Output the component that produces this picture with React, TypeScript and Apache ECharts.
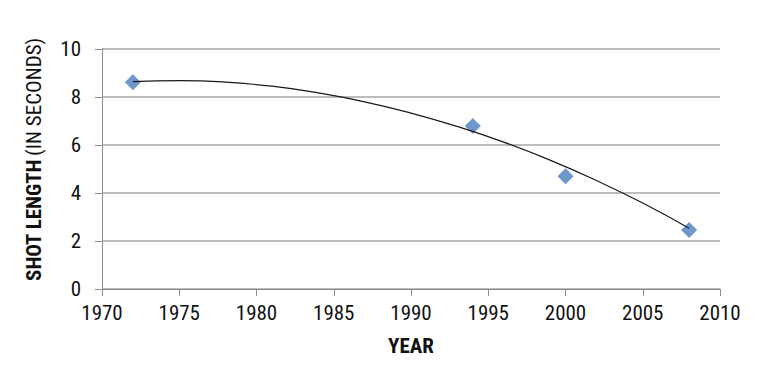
import React, { useEffect, useRef } from "react";
import * as echarts from "echarts";

const years = [1972, 1994, 2000, 2008];
const shotLength = [8.61, 6.79, 4.7, 2.46];
const trendYears = [1972, 1975, 1978, 1981, 1984, 1987, 1990, 1993, 1996, 1999, 2002, 2005, 2008];
const trendValues = [8.64, 8.68, 8.62, 8.45, 8.17, 7.8, 7.33, 6.77, 6.12, 5.37, 4.52, 3.58, 2.53];

const FONT = "'Roboto Condensed', 'Liberation Sans', sans-serif";

export default function App() {
  const ref = useRef<HTMLDivElement>(null);
  useEffect(() => {
    if (!ref.current) return;
    const chart = echarts.init(ref.current, undefined, { renderer: "svg" });
    chart.setOption({
      animation: false,
      backgroundColor: "#ffffff",
      grid: { left: 102, right: 49, top: 49, bottom: 94 },
      xAxis: {
        type: "value",
        min: 1970,
        max: 2010,
        interval: 5,
        name: "YEAR",
        nameLocation: "middle",
        nameGap: 46,
        nameTextStyle: { fontFamily: FONT, fontWeight: "bold", fontSize: 21, color: "#111" },
        axisLine: { show: true, lineStyle: { color: "#8c8c8c", width: 1 } },
        axisTick: { show: true, length: 7, lineStyle: { color: "#8c8c8c" } },
        axisLabel: {
          fontFamily: FONT,
          fontSize: 21,
          color: "#111",
          margin: 13,
          formatter: (v: number) => String(v),
        },
        splitLine: { show: false },
      },
      yAxis: {
        type: "value",
        min: 0,
        max: 10,
        interval: 2,
        name: "{b|SHOT LENGTH} {n|(IN SECONDS)}",
        nameLocation: "middle",
        nameRotate: 90,
        nameGap: 58,
        nameTextStyle: {
          padding: [0, 0, 0, 19],
          rich: {
            b: { fontFamily: FONT, fontWeight: "bold", fontSize: 21, color: "#111" },
            n: { fontFamily: FONT, fontSize: 21, color: "#111" },
          },
        },
        axisLine: { show: true, lineStyle: { color: "#8c8c8c", width: 1 } },
        axisTick: { show: true, length: 7, lineStyle: { color: "#8c8c8c" } },
        axisLabel: { fontFamily: FONT, fontSize: 21, color: "#111", margin: 21 },
        splitLine: { show: true, lineStyle: { color: "#a6a6a6", width: 1.5 } },
      },
      series: [
        {
          type: "line",
          data: trendYears.map((y, i) => [y, trendValues[i]]),
          smooth: true,
          symbol: "none",
          lineStyle: { color: "#1a1a1a", width: 1.2 },
          z: 3,
        },
        {
          type: "scatter",
          data: years.map((y, i) => [y, shotLength[i]]),
          symbol: "diamond",
          symbolSize: 16,
          itemStyle: { color: "#4a7ebf" },
          z: 2,
        },
      ],
    });
    return () => chart.dispose();
  }, []);
  return <div ref={ref} style={{ width: 769, height: 383, margin: -8 }} />;
}
